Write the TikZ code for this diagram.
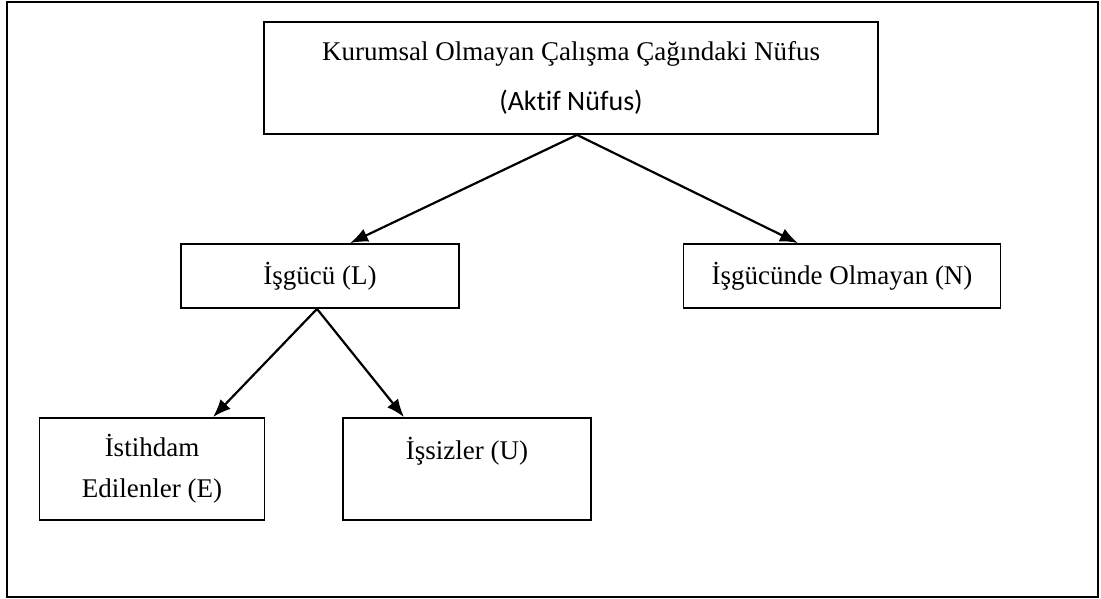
\documentclass[tikz,border=0pt]{standalone}
\usepackage{fontspec}
\setmainfont{Liberation Serif}
\newfontfamily\calibrifont[Ligatures=NoCommon]{Carlito}
\usetikzlibrary{arrows.meta}

\begin{document}
\begin{tikzpicture}[x=1pt,y=-1pt]
    \tikzstyle{every node} = [font=\fontsize{27}{41}\selectfont]
    \tikzstyle{block} = [draw, rectangle, line width=1.8pt, align=center, inner sep=0pt]
    \tikzstyle{link} = [line width=2.2pt, -{Latex[length=18pt,width=14pt]}]
    \useasboundingbox (0,0) rectangle (1101,599);
    \draw[line width=1.8pt] (7,2) rectangle (1098,597);

    % place nodes
    \node[block,minimum width=614,minimum height=112](population) at (571,78)
        {Kurumsal Olmayan Çalışma Çağındaki Nüfus\\[9pt]{\calibrifont\fontsize{28}{41}\selectfont (Aktif Nüfus)}};
    \node[block,minimum width=278,minimum height=64](labor) at (320,276){İşgücü (L)};
    \node[block,minimum width=317,minimum height=64](nonlabor) at (842,276){İşgücünde Olmayan (N)};
    \node[block,minimum width=225,minimum height=102](employed) at (152,469){İstihdam\\Edilenler (E)};
    \node[block,minimum width=248,minimum height=102](unemployed) at (467,469){İşsizler (U)\\~};

    % Connections
    \draw[link] ([xshift=6pt]population.south)--([xshift=30pt]labor.north);
    \draw[link] ([xshift=6pt]population.south)--([xshift=-44pt]nonlabor.north);
    \draw[link] ([xshift=-3pt]labor.south)--([xshift=61pt]employed.north);
    \draw[link] ([xshift=-3pt]labor.south)--([xshift=-63pt]unemployed.north);

\end{tikzpicture}
\end{document}
